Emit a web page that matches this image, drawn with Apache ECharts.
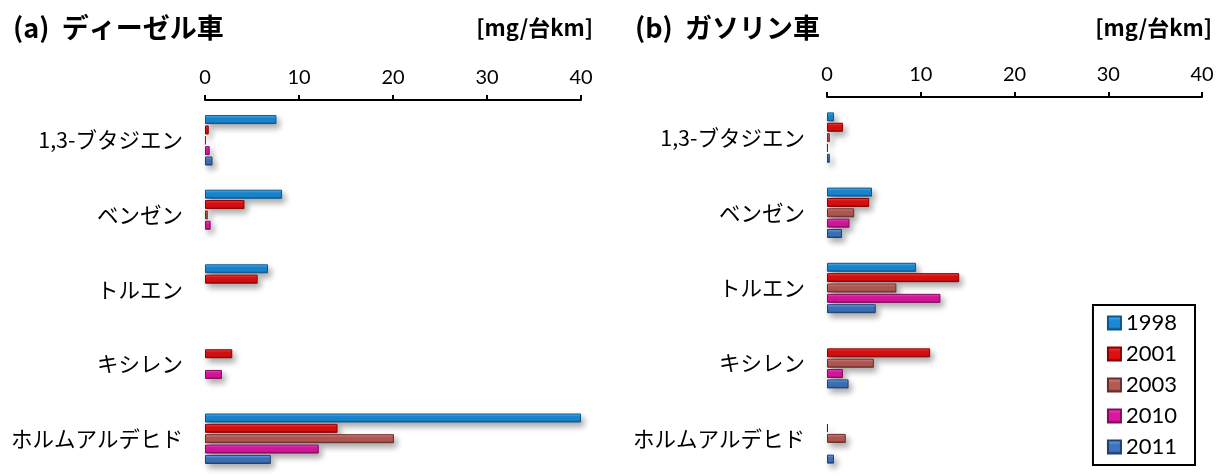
<!DOCTYPE html>
<html>
<head>
<meta charset="utf-8">
<script src="https://cdn.jsdelivr.net/npm/echarts@6/dist/echarts.min.js"></script>
<style>
  html, body { margin: 0; padding: 0; background: #fff; }
  #chart { width: 1221px; height: 476px; }
</style>
</head>
<body>
<div id="chart"></div>
<script>
// categories and years
var categories = ['1,3-ブタジエン', 'ベンゼン', 'トルエン', 'キシレン', 'ホルムアルデヒド']
var years = ['1998', '2001', '2003', '2010', '2011']
var xTicks = [0, 10, 20, 30, 40]

// (a) diesel [mg/台km]
var diesel1998 = [7.6, 8.2, 6.7, 0, 40]
var diesel2001 = [0.4, 4.2, 5.6, 2.9, 14.1]
var diesel2003 = [0.1, 0.3, 0, 0, 20.1]
var diesel2010 = [0.5, 0.6, 0, 1.8, 12.1]
var diesel2011 = [0.8, 0, 0, 0, 7.0]

// (b) gasoline [mg/台km]
var gasoline1998 = [0.75, 4.8, 9.5, 0, 0]
var gasoline2001 = [1.7, 4.5, 14.1, 11.0, 0.1]
var gasoline2003 = [0.3, 2.9, 7.4, 5.0, 2.0]
var gasoline2010 = [0.1, 2.4, 12.1, 1.7, 0]
var gasoline2011 = [0.3, 1.6, 5.2, 2.3, 0.75]

var dieselData = [diesel1998, diesel2001, diesel2003, diesel2010, diesel2011]
var gasolineData = [gasoline1998, gasoline2001, gasoline2003, gasoline2010, gasoline2011]

// top / middle / bottom shades for the bevelled bars
var shades = [
  ['#5cc0f5', '#1a88d4', '#0b5690'],
  ['#ff4a4a', '#dc1010', '#8c0000'],
  ['#e88c86', '#b45a55', '#6a2c2a'],
  ['#ff4ccc', '#d8189e', '#860a62'],
  ['#7ab4ee', '#3d74bc', '#213f70'],
]

var latin = 'Lato, "Noto Sans CJK JP", sans-serif'
var jp = '"Noto Sans CJK JP", sans-serif'

function barStyle(i) {
  var s = shades[i]
  return {
    color: new echarts.graphic.LinearGradient(0, 0, 0, 1, [
      { offset: 0, color: s[0] },
      { offset: 0.35, color: s[1] },
      { offset: 0.75, color: s[1] },
      { offset: 1, color: s[2] },
    ]),
    borderColor: s[2],
    borderWidth: 1,
    shadowColor: 'rgba(0,0,0,0.35)',
    shadowBlur: 6,
    shadowOffsetX: 3,
    shadowOffsetY: 4,
  }
}

// zero values are left out so no hairline is drawn
function dropZeros(arr) {
  return arr.map(function (v) { return v === 0 ? '-' : v })
}

function xAxisFor(gridIndex) {
  return {
    gridIndex: gridIndex,
    type: 'value',
    position: 'top',
    offset: 3,
    min: 0,
    max: 40,
    interval: 10,
    axisLine: { show: true, lineStyle: { color: '#000', width: 2 } },
    axisTick: { show: true, length: 5, lineStyle: { color: '#000', width: 2 } },
    splitLine: { show: false },
    axisLabel: {
      margin: 12,
      color: '#000',
      fontSize: 20,
      fontFamily: latin,
      formatter: function (v) { return xTicks.indexOf(v) >= 0 ? String(v) : '' },
    },
  }
}

function yAxisFor(gridIndex) {
  return {
    gridIndex: gridIndex,
    type: 'category',
    inverse: true,
    data: categories,
    axisLine: { show: false },
    axisTick: { show: false },
    axisLabel: {
      margin: 22,
      color: '#000',
      fontSize: 21.5,
      fontFamily: jp,
    },
  }
}

var series = []
for (var i = 0; i < years.length; i += 1) {
  series.push({
    name: years[i],
    type: 'bar',
    xAxisIndex: 0,
    yAxisIndex: 0,
    barWidth: 9,
    barGap: '15%',
    itemStyle: barStyle(i),
    data: dropZeros(dieselData[i]),
  })
}
for (var j = 0; j < years.length; j += 1) {
  series.push({
    name: years[j],
    type: 'bar',
    xAxisIndex: 1,
    yAxisIndex: 1,
    barWidth: 9,
    barGap: '15%',
    itemStyle: barStyle(j),
    data: dropZeros(gasolineData[j]),
  })
}

var chart = echarts.init(document.getElementById('chart'))
chart.setOption({
  animation: false,
  title: [
    { text: '(a)  ディーゼル車', left: 8, top: 9,
      textStyle: { fontSize: 27, fontWeight: 'bold', fontFamily: jp, color: '#000' } },
    { text: '[mg/台km]', right: 623, top: 12,
      textStyle: { fontSize: 22, fontWeight: 'bold', fontFamily: jp, color: '#000' } },
    { text: '(b)  ガソリン車', left: 630, top: 9,
      textStyle: { fontSize: 27, fontWeight: 'bold', fontFamily: jp, color: '#000' } },
    { text: '[mg/台km]', right: 4, top: 12,
      textStyle: { fontSize: 22, fontWeight: 'bold', fontFamily: jp, color: '#000' } },
  ],
  legend: {
    data: years,
    orient: 'vertical',
    right: 26,
    top: 305,
    padding: [7, 18, 7, 14],
    borderColor: '#000',
    borderWidth: 2,
    itemWidth: 13,
    itemHeight: 13,
    itemGap: 9,
    icon: 'rect',
    textStyle: { fontSize: 22, fontFamily: latin, color: '#000', lineHeight: 22 },
  },
  grid: [
    { left: 205, right: 640, top: 103, bottom: -14 },
    { left: 827, right: 19, top: 100, bottom: -16 },
  ],
  xAxis: [xAxisFor(0), xAxisFor(1)],
  yAxis: [yAxisFor(0), yAxisFor(1)],
  series: series,
})
</script>
</body>
</html>
